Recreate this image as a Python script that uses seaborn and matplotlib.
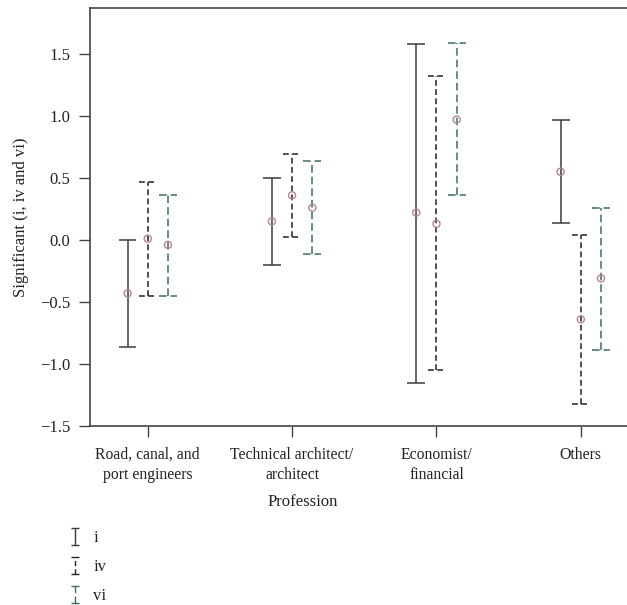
import numpy as np
import pandas as pd
import matplotlib
matplotlib.use("Agg")
import matplotlib.pyplot as plt
import seaborn as sns
from matplotlib.container import ErrorbarContainer
from matplotlib.collections import LineCollection
from matplotlib.lines import Line2D

# ---------------- data ----------------
professions = ["Road, canal, and\nport engineers", "Technical architect/\narchitect",
               "Economist/\nfinancial", "Others"]
series = ["i", "iv", "vi"]

i_mean = [-0.43, 0.15, 0.22, 0.55]
i_low = [-0.86, -0.20, -1.15, 0.14]
i_high = [0.00, 0.50, 1.58, 0.97]

iv_mean = [0.01, 0.36, 0.13, -0.64]
iv_low = [-0.45, 0.02, -1.05, -1.32]
iv_high = [0.47, 0.69, 1.32, 0.04]

vi_mean = [-0.04, 0.26, 0.97, -0.31]
vi_low = [-0.45, -0.11, 0.36, -0.89]
vi_high = [0.36, 0.64, 1.59, 0.26]

y_ticks = [-1.5, -1.0, -0.5, 0.0, 0.5, 1.0, 1.5]

# ---------------- style ----------------
sns.set_theme(style="ticks")
plt.rcParams["font.family"] = ["Liberation Serif", "DejaVu Serif"]
plt.rcParams["axes.unicode_minus"] = True

FS = 12
FSX = 11.3
colors = {"i": "#3a3a3a", "iv": "#222222", "vi": "#3f6e5f"}
styles = {"i": "-", "iv": (0, (3.8, 2.2)), "vi": (0, (5, 2.6))}
offsets = {"i": -0.14, "iv": 0.0, "vi": 0.14}
marker_color = "#b7868d"
lw = 1.1
cap_half = 0.062

means = {"i": i_mean, "iv": iv_mean, "vi": vi_mean}
lows = {"i": i_low, "iv": iv_low, "vi": vi_low}
highs = {"i": i_high, "iv": iv_high, "vi": vi_high}

rows = []
for s in series:
    for k, p in enumerate(professions):
        rows.append({"profession": p, "series": s, "pos": k + offsets[s],
                     "mean": means[s][k], "low": lows[s][k], "high": highs[s][k]})
df = pd.DataFrame(rows)

fig = plt.figure(figsize=(6.27, 6.05), dpi=100)
ax = fig.add_axes([90 / 627, 1 - 426 / 605, 1 - 90 / 627, (426 - 8) / 605])

for s in series:
    d = df[df["series"] == s]
    eb = ax.errorbar(d["pos"], d["mean"],
                     yerr=[d["mean"] - d["low"], d["high"] - d["mean"]],
                     fmt="none", ecolor=colors[s], elinewidth=lw, capsize=0, zorder=2)
    eb[2][0].set_linestyle(styles[s])
    ax.hlines(np.concatenate([d["low"].values, d["high"].values]),
              np.concatenate([d["pos"].values, d["pos"].values]) - cap_half,
              np.concatenate([d["pos"].values, d["pos"].values]) + cap_half,
              colors=colors[s], linestyles=styles[s], linewidth=lw, zorder=2)

sns.scatterplot(data=df, x="pos", y="mean", marker="o", s=26, ax=ax, legend=False, zorder=3)
pts = ax.collections[-1]
pts.set_facecolor("none")
pts.set_edgecolor(marker_color)
pts.set_linewidth(1.0)

ax.set_xlim(-0.4, 3.32)
ax.set_ylim(-1.5, 1.87)
ax.set_xticks(range(len(professions)))
ax.set_xticklabels(professions, fontsize=FSX, linespacing=1.35)
ax.set_yticks(y_ticks)
ax.set_yticklabels([f"{v:.1f}".replace("-", "\u2212") for v in y_ticks], fontsize=FS)
ax.tick_params(axis="both", direction="out", length=8, width=1.0, color="#444444",
               labelcolor="#222222")
ax.tick_params(axis="x", pad=7)
ax.tick_params(axis="y", pad=6)

for side in ["left", "bottom", "top"]:
    ax.spines[side].set_color("#444444")
    ax.spines[side].set_linewidth(1.2)
    ax.spines[side].set_visible(True)
ax.spines["right"].set_visible(False)

ax.set_xlabel("Profession", fontsize=FS, color="#222222")
ax.xaxis.set_label_coords((303 - 90) / 537, -0.162)
ax.xaxis.label.set_va("top")
ax.set_ylabel("Significant (i, iv and vi)", fontsize=FS, color="#222222")
ax.yaxis.set_label_coords((21 - 90) / 537, 0.5)
ax.yaxis.label.set_va("center")


def proxy(color, ls):
    bar = LineCollection([], colors=color, linestyles=ls, linewidths=1.0)
    cap = Line2D([], [], color=color, marker="_", markersize=6, markeredgewidth=1.0,
                 linestyle="none")
    return ErrorbarContainer((None, (cap, cap), (bar,)), has_xerr=False, has_yerr=True)


handles = [proxy(colors[s], styles[s]) for s in series]
fig.legend(handles, series, loc="upper left", bbox_to_anchor=(70 / 627, 1 - 530 / 605),
           frameon=False, handlelength=0.6, handletextpad=0.8, borderaxespad=0,
           borderpad=0, labelspacing=0.78, fontsize=FS, labelcolor="#222222")

fig.savefig("out.png", dpi=100)
